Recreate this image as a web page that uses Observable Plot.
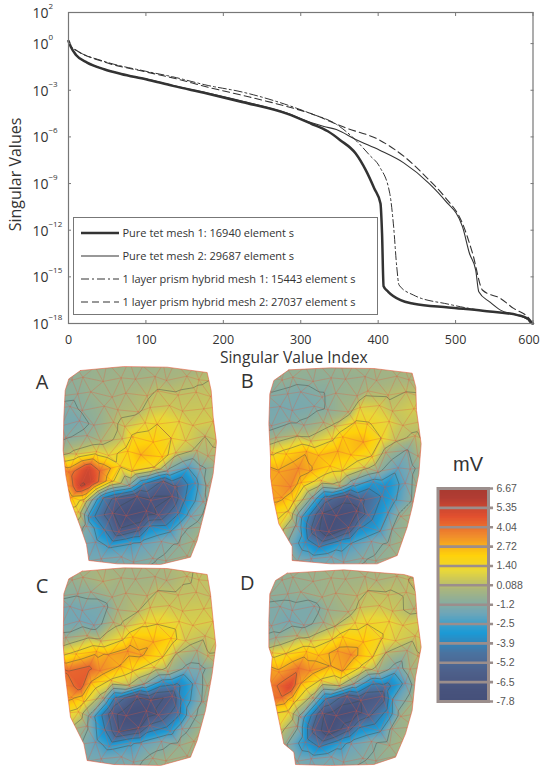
<!DOCTYPE html>
<html><head><meta charset="utf-8">
<script src="https://cdn.jsdelivr.net/npm/d3@7"></script>
<script src="https://cdn.jsdelivr.net/npm/@observablehq/plot@0.6"></script>
<style>
html,body{margin:0;padding:0;background:#fff}
#page{position:relative;width:540px;height:769px;overflow:hidden;font-family:"Open Sans",sans-serif;color:#333}
#page svg.plot,#page>svg{position:absolute}
#legend{position:absolute;left:72.5px;top:217px;width:303px;height:96px;background:#fff;border:1px solid #777;box-sizing:content-box}
#legend div{position:absolute;left:49px;font-size:11px;line-height:14px;color:#333;white-space:pre}
#legend svg{position:absolute;left:0;top:0}
</style></head><body><div id="page"></div>
<script>
// ---------- singular value curves (index, log10 of the singular value)
const tet1Index=[0,3,10,24,46,68,100,135,179,224,282,313,335,351,371,384,395,403,405,407,413,429,446,491,535,580,593,598,600];
const tet1Exp=[.17,-.21,-.75,-1.22,-1.65,-1.95,-2.29,-2.72,-3.21,-3.75,-4.5,-5.14,-5.64,-6.21,-7.07,-8.14,-9.32,-10.29,-12.2,-15.6,-15.96,-16.5,-16.73,-16.97,-17.18,-17.46,-17.68,-17.96,-18];
const tet2Index=[0,3,10,24,46,68,100,135,179,224,282,313,330,346,371,402,433,466,486,509,518,526,530,544,558,580,593,600];
const tet2Exp=[.17,-.21,-.75,-1.22,-1.65,-1.95,-2.27,-2.7,-3.18,-3.7,-4.47,-5.08,-5.33,-5.53,-6.17,-6.86,-7.67,-9,-10.07,-11.79,-13.5,-14.57,-15.96,-16.61,-17.14,-17.46,-17.68,-17.96];
const prism1Index=[0,3,10,46,100,135,179,224,268,313,346,371,389,402,415,420,424,427,446,491,535,580,600];
const prism1Exp=[.17,-.17,-.43,-1.14,-1.78,-2.14,-2.68,-3.11,-3.71,-4.5,-5.19,-6.21,-7.18,-7.93,-9.64,-11.79,-14.36,-15.53,-16.18,-16.76,-17.18,-17.46,-17.96];
const prism2Index=[0,3,10,46,100,135,179,224,268,313,357,402,433,464,486,509,522,535,558,575,593,600];
const prism2Exp=[.17,-.17,-.43,-1.18,-1.82,-2.21,-2.79,-3.32,-3.86,-4.5,-5.4,-6.21,-7.24,-8.68,-9.86,-11.57,-13.5,-15.86,-16.39,-17.03,-17.57,-18];
const legendLabels=["Pure tet mesh 1: 16940 element s","Pure tet mesh 2: 29687 element s","1 layer prism hybrid mesh 1: 15443 element s","1 layer prism hybrid mesh 2: 27037 element s"];
const xTicks=[0,100,200,300,400,500,600];
const yExponents=[2,0,-3,-6,-9,-12,-15,-18];
const yExponentLabels=["2","0","\u22123","\u22126","\u22129","\u221212","\u221215","\u221218"];

// ---------- colour bar
const barTicks=[6.67,5.35,4.04,2.72,1.40,0.088,-1.2,-2.5,-3.9,-5.2,-6.5,-7.8];
const barTickLabels=["6.67","5.35","4.04","2.72","1.40","0.088","-1.2","-2.5","-3.9","-5.2","-6.5","-7.8"];
const colorStops=[-7.8,-7.15,-5.85,-4.55,-3.2,-1.85,-0.25,1.0,2.06,3.38,4.695,6.01,6.67];
const colorValues=["#45507a","#47527c","#4d5f8a","#4a73a0","#1a9ad6","#6fa6b8","#a9b57e","#e8d73a","#ffd20a","#f08c2c","#e2502f","#b03c33","#a83a30"];

// ---------- potential maps: mV at mesh nodes, rows of the staggered mesh
const rowY=[10,55,100,145,190,235,280,325,370,415,460,505,550,595,640];
const colEven=[120,170,220,270,320,370,420,470,520,570,620];
const colOdd=[145,195,245,295,345,395,445,495,545,595,645];
const meshNudgeX=[0,9,-7,4,-10,6,-3,8,-6,2,-9,5,-4,10,-8,3,7];
const meshNudgeY=[5,-8,3,9,-4,-10,7,0,-6,10,-2,6,-9,4,-5,8,-3,1,-7];
const mapA=[
[-.8,-.8,-.7,-.7,-.6,-.6,-.5,-.5,-.4,-.3,-.3],
[-1,-.8,-.6,-.5,-.5,-.4,-.3,-.2,0,.2,.2],
[-1,-1,-.7,-.5,-.3,0,.15,.2,.2,.3,.3],
[-1.4,-1.1,-.6,-.2,0,.3,.4,.4,.4,.5,.5],
[-1.6,-1.6,-1,-.1,.4,.9,1.4,.9,.6,.6,.5],
[-1.3,-.9,-.2,.3,1.6,2.1,1.4,.7,.1,.3,.3],
[-.3,.5,.8,1,1.9,2.6,2,.6,-.1,-.2,0],
[3.6,5.2,4,1.6,1.7,1.4,-1.5,-2.5,-1.5,-.5,-.3],
[1.5,5.4,5.3,1.8,-1.5,-3.8,-5.5,-5.5,-3,-1,-.5],
[2.5,.9,-3.8,-5.8,-6.5,-6.8,-6.5,-4.2,-1.4,-.4,-.3],
[1,.8,-3.3,-6.4,-7.5,-7.5,-6.2,-4.2,-1.8,-.7,-.5],
[.5,-1.5,-3.9,-6.2,-6,-4,-2.6,-1.4,-.6,-.4,-.3],
[-.5,-1,-2.2,-2.6,-2.6,-2.1,-1.6,-1,-.6,-.4,-.4],
[-1.2,-1.6,-1.7,-1.7,-1.5,-1.3,-1,-.7,-.5,-.5,-.5],
[-1.2,-1.3,-1.3,-1.3,-1.2,-1.1,-.9,-.7,-.5,-.5,-.5]];
const mapB=[
[-.8,-.8,-.8,-.8,-.7,-.6,-.5,-.4,-.3,-.2,-.2],
[-.9,-.9,-1,-.9,-.8,-.7,-.5,-.4,-.3,-.2,-.2],
[-1.3,-1.4,-1.5,-1.3,-.8,-.5,-.2,0,.1,.2,.2],
[-1.6,-1.6,-1.5,-1.1,-.3,.8,.6,.3,.6,.5,.5],
[-1.5,-1.4,-1,-.5,.3,1.5,1.5,.9,.3,.3,.3],
[-.5,0,.5,1.2,2.2,2.7,1.4,.2,0,.2,.2],
[1.2,2,2.6,2.5,2.6,2.3,1.3,-.4,-1.3,-.5,-.3],
[2.9,3.3,2.8,2.1,1.5,.5,-1,-2.1,-1.5,-.4,-.3],
[2.8,3.4,2.3,.9,-.4,-2,-3,-3.7,-2,-.6,-.4],
[3,1.5,-1.5,-4.8,-6,-5.5,-3.8,-2.8,-1,-.4,-.3],
[2,1.3,-2.2,-6.5,-7.5,-7,-4.5,-2.6,-.8,-.3,-.3],
[1,-1.4,-6,-7.5,-6.5,-4.2,-2.5,-1.2,-.4,-.3,-.3],
[0,-.9,-3.3,-4,-3.2,-2.4,-1.7,-.9,-.4,-.3,-.3],
[-.8,-1.4,-1.9,-1.8,-1.6,-1.3,-1,-.6,-.4,-.3,-.3],
[-1,-1.2,-1.4,-1.4,-1.2,-1.1,-.9,-.6,-.4,-.3,-.3]];
const mapC=[
[-.6,-.5,-.3,-.4,-.5,-.4,-.3,-.1,.1,.2,.2],
[-.8,-.5,-.2,-.4,-.5,-.4,-.3,0,.2,.2,.2],
[-1,-1.1,-.9,-.6,-.3,-.1,.1,.2,.2,.2,.2],
[-1.7,-1.7,-1.5,-.4,.1,.4,.4,.5,.5,.5,.5],
[-1.6,-1.8,-1.8,-.3,.3,1.1,1.4,.9,.7,.7,.5],
[-.9,-.3,.4,1.2,2.2,2.6,2,.5,.3,.5,.4],
[1,1.8,2.4,2.9,3.1,2.9,1.5,.2,-.5,0,0],
[4.2,4.3,3.4,2.7,1.6,.8,-.4,-1.5,-1.5,-.4,-.3],
[3,4.5,2.6,1.2,-.1,-1.1,-3,-4.5,-2.2,-.6,-.4],
[3,1.6,-.6,-4.5,-6.3,-6.8,-6.3,-3.4,-1,-.4,-.3],
[1.5,1,-1.7,-6,-7.4,-7.5,-6.3,-4.5,-1.5,-.4,-.3],
[.2,-1,-3.8,-6.5,-6.8,-5,-3,-1.6,-.4,-.3,-.3],
[-.4,-.7,-2.2,-2.8,-2.7,-2.1,-1.6,-.8,-.4,-.3,-.3],
[-1.2,-1.5,-1.7,-1.7,-1.5,-.9,-.6,-.6,-.5,-.4,-.4],
[-1.2,-1.3,-1.4,-1.4,-1.2,-.9,-.6,-.6,-.5,-.4,-.4]];
const mapD=[
[-.7,-.7,-.6,-.6,-.5,-.5,-.4,-.3,-.1,0,0],
[-.9,-.8,-.7,-.5,-.5,-.4,-.3,-.2,.1,.1,.1],
[-1,-1,-.8,-.6,-.4,-.1,.1,.2,0,.1,.1],
[-1.4,-1.5,-1.5,-.8,-.3,.3,.4,.4,-.2,.3,.3],
[-1.4,-1.7,-1.5,-.8,.1,.9,1.4,1.1,.7,.6,.4],
[-1,-.3,.6,1.3,2,2.3,1.5,.7,.4,.5,.4],
[.9,1.5,2.2,2.4,3,3.3,1.5,.1,-.5,0,0],
[3,3.8,3.3,2.7,2.9,1,-.6,-1.7,-.4,-.2,-.2],
[3.5,5,2.8,1.2,0,-1.2,-3.5,-4.6,-2.2,-.4,-.3],
[4,1.7,-.4,-4,-5.8,-6.5,-6,-2.4,-.4,-.3,-.3],
[1.5,1.2,-1.6,-6.3,-7.4,-7.3,-5.5,-3.5,-.6,-.3,-.3],
[.8,-.9,-5.8,-7.3,-6,-4.2,-2.6,-.9,-.3,-.3,-.3],
[-.2,-.9,-3.3,-4,-3,-2,-1.4,-.7,-.3,-.3,-.3],
[-1,-1.5,-1.9,-1.8,-1.5,-1.3,-1,-.6,-.4,-.3,-.3],
[-1.1,-1.3,-1.4,-1.4,-1.2,-1,-.8,-.6,-.4,-.3,-.3]];

// map outlines
const outlineA=[[180,30],[310,18],[440,20],[560,36],[572,90],[578,170],[588,245],[578,340],[565,400],[553,450],[530,540],[510,590],[420,612],[290,610],[205,600],[198,552],[180,500],[150,420],[136,345],[128,270],[130,170],[134,90],[145,55]];
const outlineB=[[175,28],[300,22],[430,24],[545,38],[556,80],[558,150],[572,250],[565,340],[545,440],[530,500],[500,585],[440,610],[300,610],[185,600],[185,558],[145,490],[130,420],[120,350],[120,290],[115,190],[118,100],[130,60]];
const outlineC=[[185,32],[310,22],[440,24],[560,42],[570,100],[578,180],[586,255],[575,340],[555,450],[530,540],[510,590],[420,615],[280,612],[200,600],[190,550],[150,470],[135,350],[128,250],[130,100],[145,55]];
const outlineD=[[170,38],[340,28],[520,42],[548,50],[555,100],[560,170],[572,260],[555,350],[545,450],[525,520],[495,590],[430,612],[300,615],[195,612],[190,575],[160,550],[135,430],[120,360],[125,290],[115,260],[115,180],[118,100],[135,60]];

const page=document.getElementById("page");
const ink="#333", frameInk="#777";
const fontFamily='"Open Sans",sans-serif';
const curve=(idx,exp)=>idx.map((i,k)=>({i,s:Math.pow(10,exp[k])}));

// ---------- line chart
const chart=Plot.plot({
  width:540,height:375,marginLeft:68,marginRight:7.5,marginTop:12,marginBottom:52,
  style:{background:"transparent",fontFamily},
  x:{domain:[0,600]},
  y:{type:"log",domain:[1e-18,1e2]},
  marks:[
    Plot.line(curve(prism1Index,prism1Exp),{x:"i",y:"s",stroke:ink,strokeWidth:1,strokeDasharray:"8,3,2,3",curve:"monotone-x"}),
    Plot.line(curve(prism2Index,prism2Exp),{x:"i",y:"s",stroke:ink,strokeWidth:1.1,strokeDasharray:"7,4",curve:"monotone-x"}),
    Plot.line(curve(tet2Index,tet2Exp),{x:"i",y:"s",stroke:ink,strokeWidth:1.1,curve:"monotone-x"}),
    Plot.line(curve(tet1Index,tet1Exp),{x:"i",y:"s",stroke:ink,strokeWidth:2.5,curve:"monotone-x"}),
    Plot.frame({stroke:frameInk,strokeWidth:1.2}),
    Plot.axisX(xTicks,{anchor:"bottom",tickSize:-3,stroke:frameInk,text:null,label:null}),
    Plot.axisX(xTicks,{anchor:"top",tickSize:-3,stroke:frameInk,text:null,label:null}),
    Plot.axisY(yExponents.map(e=>Math.pow(10,e)),{anchor:"left",tickSize:-3,stroke:frameInk,text:null,label:null}),
    Plot.axisY(yExponents.map(e=>Math.pow(10,e)),{anchor:"right",tickSize:-3,stroke:frameInk,text:null,label:null}),
    Plot.text(xTicks.slice(0,-1),{x:d=>d,frameAnchor:"bottom",dy:20,fontSize:12.5,fill:ink}),
    Plot.text(xTicks.slice(-1),{x:d=>d,frameAnchor:"bottom",dy:20,dx:-4,fontSize:12.5,fill:ink}),
    Plot.text(yExponents,{y:e=>Math.pow(10,e),frameAnchor:"left",textAnchor:"start",dx:-36,dy:1,fontSize:14,fill:ink,text:()=>"10"}),
    Plot.text(yExponents,{y:e=>Math.pow(10,e),frameAnchor:"left",textAnchor:"start",dx:-20,dy:-6,fontSize:8,fill:ink,text:(e,i)=>yExponentLabels[i]}),
    Plot.text(["Singular Value Index"],{frameAnchor:"bottom",dy:39,dx:-7,fontSize:15.6,fill:ink}),
    Plot.text(["Singular Values"],{frameAnchor:"left",textAnchor:"middle",rotate:-90,dx:-53,dy:6.5,fontSize:16,fill:ink})
  ]
});
chart.style.left="0px";chart.style.top="0px";
page.appendChild(chart);

// ---------- legend
const legend=document.createElement("div");legend.id="legend";
const dashes=[null,null,"8,3,2,3","7,4"],weights=[2.6,1.1,1,1.1],rowsY=[15,38,61,84];
let sv='<svg width="50" height="96">';
rowsY.forEach((y,i)=>{sv+=`<line x1="7" x2="45" y1="${y}" y2="${y}" stroke="${ink}" stroke-width="${weights[i]}" ${dashes[i]?`stroke-dasharray="${dashes[i]}"`:""}/>`});
legend.innerHTML=sv+"</svg>"+legendLabels.map((t,i)=>`<div style="top:${rowsY[i]-7}px">${t}</div>`).join("");
page.appendChild(legend);

// ---------- potential map panels
const colorScale={type:"linear",domain:colorStops,range:colorValues,interpolate:"rgb"};
function panel(name,map,outline,left,top){
  const nodes=[];
  let n=0;
  const node=(x,y,v)=>{nodes.push({x:x+meshNudgeX[n%meshNudgeX.length],y:y+meshNudgeY[n%meshNudgeY.length],v});n++;};
  rowY.forEach((y,r)=>{
    const cols=r%2?colOdd:colEven;
    map[r].forEach((v,c)=>{
      if(c===0) node(cols[0]-50,y,v);
      node(cols[c],y,v);
    });
  });
  const poly=outline.concat([outline[0]]);
  const p=Plot.plot({
    width:220,height:210,margin:0,
    style:{background:"transparent",fontFamily},
    x:{domain:[0,660],axis:null},
    y:{domain:[630,0],axis:null},
    color:colorScale,
    marks:[
      Plot.raster(nodes,{x:"x",y:"y",fill:"v",interpolate:"barycentric",pixelSize:1}),
      Plot.contour(nodes,{x:"x",y:"y",value:"v",interpolate:"barycentric",thresholds:barTicks.slice().reverse(),stroke:"#3d4a48",strokeWidth:.55,strokeOpacity:.8,fill:"none",pixelSize:1}),
      Plot.delaunayMesh(nodes,{x:"x",y:"y",stroke:"#e8583c",strokeWidth:.5,strokeOpacity:.6}),
      Plot.line(poly,{x:d=>d[0],y:d=>d[1],stroke:"#e8583c",strokeWidth:.7,strokeOpacity:.8}),
      Plot.text([name],{x:[name==="A"||name==="C"?65:50],y:[name==="A"?65:name==="B"?62:name==="C"?78:70],fontSize:20,fill:ink,fontFamily})
    ]
  });
  // keep the map inside the head outline
  const sx=p.scale("x"),sy=p.scale("y");
  const cid="clip"+name;
  const ns="http://www.w3.org/2000/svg";
  const cp=document.createElementNS(ns,"clipPath");cp.setAttribute("id",cid);
  const pg=document.createElementNS(ns,"polygon");
  pg.setAttribute("points",outline.map(d=>sx.apply(d[0])+","+sy.apply(d[1])).join(" "));
  cp.appendChild(pg);p.appendChild(cp);
  Array.from(p.children).forEach(g=>{
    const l=g.getAttribute&&g.getAttribute("aria-label");
    if(l==="raster"||l==="contour"||l==="delaunay mesh") g.setAttribute("clip-path",`url(#${cid})`);
  });
  p.style.left=left+"px";p.style.top=top+"px";
  page.appendChild(p);
}
panel("C",mapC,outlineC,20,560);
panel("D",mapD,outlineD,230,560);
panel("A",mapA,outlineA,20,360);
panel("B",mapB,outlineB,230,360);

// ---------- colour bar
const barBand=0.05, barSlices=d3.range(-7.8,6.67,barBand);
const bar=Plot.plot({
  width:120,height:228,marginLeft:17.5,marginRight:52,marginTop:8,marginBottom:7,
  style:{background:"transparent",fontFamily:'"Liberation Sans",sans-serif'},
  x:{domain:[0,1],axis:null},
  y:{domain:[-7.8,6.67],axis:null},
  color:colorScale,
  marks:[
    Plot.rect(barSlices,{x1:0,x2:1,y1:d=>d,y2:d=>d+barBand*1.5,fill:d=>d,shapeRendering:"crispEdges"}),
    Plot.ruleY(barTicks.map((d,i)=>-7.8+(6.67+7.8)*(11-i)/11),{stroke:"#9b8e8c",strokeWidth:2.6,x1:0,x2:1.1}),
    Plot.frame({stroke:"#9b8e8c",strokeWidth:3}),
    Plot.text(barTickLabels,{x:1,y:(d,i)=>-7.8+(6.67+7.8)*(11-i)/11,dx:8,textAnchor:"start",fontSize:10.5,fill:"#555"})
  ]
});
bar.style.left="420px";bar.style.top="480px";
page.appendChild(bar);

const unit=document.createElement("div");
unit.textContent="mV";
unit.style.cssText='position:absolute;left:443px;top:452px;width:50px;text-align:center;font-family:"Liberation Sans",sans-serif;font-size:20px;line-height:24px;color:#333';
page.appendChild(unit);
</script></body></html>
